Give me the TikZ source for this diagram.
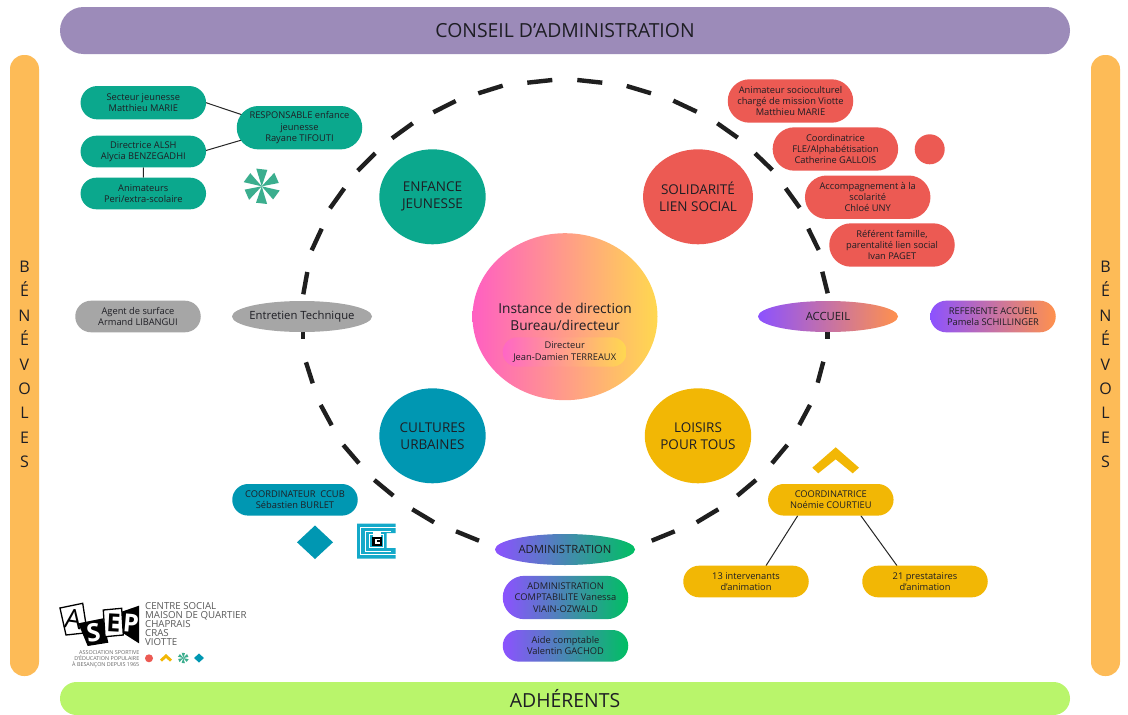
\documentclass[tikz,border=0pt]{standalone}
\usepackage{fontspec}
\setmainfont{Open Sans}
\usetikzlibrary{shapes.geometric,shapes.misc,backgrounds,calc}
\definecolor{teal1}{HTML}{0BA88D}
\definecolor{red1}{HTML}{EC5A53}
\definecolor{blue1}{HTML}{0097B2}
\definecolor{yel1}{HTML}{F2B705}
\definecolor{grey1}{HTML}{A6A6A6}
\definecolor{purp1}{HTML}{9C8BB9}
\definecolor{lime1}{HTML}{B9F56B}
\definecolor{oran1}{HTML}{FDBB57}
\definecolor{vio1}{HTML}{8C52FF}
\definecolor{org2}{HTML}{FF914D}
\definecolor{grn2}{HTML}{00BF63}
\definecolor{pnk}{HTML}{FF5FC2}
\definecolor{ylw}{HTML}{FFD84F}
\definecolor{aster}{HTML}{3BAE8E}
\definecolor{txt}{HTML}{1E1E24}
\definecolor{cyan1}{HTML}{14A9C9}
\tikzset{
  pill/.style={rounded rectangle,minimum width=125.5pt,inner sep=0pt,outer sep=0pt,
     align=center,font=\fontsize{9.3}{11.2}\selectfont,text=txt},
  pillA/.style={pill,minimum height=31.6pt},
  pillB/.style={pill,minimum height=43.4pt},
  blob/.style={ellipse,minimum width=106.4pt,minimum height=95pt,inner sep=0pt,outer sep=0pt,
     align=center,font=\fontsize{13.5}{17}\selectfont,text=txt},
  oval/.style={ellipse,minimum width=140pt,minimum height=31pt,inner xsep=-12pt,inner ysep=0pt,outer sep=0pt,
     align=center,font=\fontsize{11.3}{13}\selectfont,text=txt},
  band/.style={rounded rectangle,inner sep=0pt,outer sep=0pt,text=txt,font=\fontsize{19.4}{22}\selectfont},
  link/.style={draw=black!85,line width=1pt},
  ringdash/.style={draw=black!88,line width=4.4pt},
  sidetext/.style={align=center,font=\fontsize{16}{24.4}\selectfont,text=txt,inner sep=0pt},
  logotext/.style={align=left,anchor=north west,inner sep=0pt,text=black!65,font=\fontsize{9.7}{9}\selectfont},
}
\newcommand{\astr}[4]{% x y radius color
  \begin{scope}[shift={(#1,#2)}]
  \foreach \a in {0,60,...,300}{
    \fill[#4] (0,0) -- ($(\a+13:#3)$) -- ($(\a+49:#3*0.94)$) -- cycle;
  }
  \end{scope}}
\begin{document}
\begin{tikzpicture}[x=1pt,y=-1pt]
\begin{pgfonlayer}{background}
\fill[white] (0,0) rectangle (1128,715);
\end{pgfonlayer}
\path[use as bounding box] (0,0) rectangle (1128,715);

% bands
\node[band,fill=purp1,minimum width=1010pt,minimum height=47pt] (ca) at (565,30.5) {CONSEIL D’ADMINISTRATION};
\begin{scope}
\clip (0,0) rectangle (1128,715);
\node[band,fill=lime1,minimum width=1010pt,minimum height=33pt] (adh) at (565,698.5) {ADHÉRENTS};
\end{scope}
\fill[oran1,rounded corners=14pt] (10,55) rectangle (39,676);
\fill[oran1,rounded corners=14pt] (1091,55) rectangle (1120,676);
\node[sidetext] (benl) at (24.5,364.5) {B\\É\\N\\É\\V\\O\\L\\E\\S};
\node[sidetext] (benr) at (1105.5,364.5) {B\\É\\N\\É\\V\\O\\L\\E\\S};

% ring dashes
\foreach \xa/\ya/\xb/\yb in {
527.3/82.7/552.3/80, 478.3/93.3/502.7/85.7, 433.3/112.3/455.7/101, 392/138.3/412.7/123.3,
357.7/170.7/375.3/153.3, 330/208.3/344.3/188.3, 311.7/250.3/321.7/228.7, 303.3/294.3/307.3/272,
577.3/80/602.3/82.7, 626.7/86/651/93.3, 673.3/100.7/696.7/111.7, 717.3/123.3/737.7/137.7,
755/153.3/772.3/170, 785.7/188.3/799.7/207.7, 808.3/228.7/818.7/250, 822.3/271.7/827.7/293.3,
827.3/325/827.3/339, 823.3/361.7/817.7/382.7, 810/405/799.3/425, 787.3/445/772/463.3,
756/480/737.3/495.7, 718.3/509.3/696.7/522.3, 674.7/531.3/651.7/540.7,
302.7/325/302.7/339, 306/362.3/312.7/383.3, 320.7/405/331.7/425.3, 343.3/445/359/463.3,
374.3/480/393.3/495.7, 412.3/509.3/434/522.3, 456/531.3/479/540.7}
  \draw[ringdash] (\xa,\ya) -- (\xb,\yb);

% centre
\node[ellipse,minimum width=185pt,minimum height=167pt,inner sep=0pt,left color=pnk,right color=ylw] (dir) at (565,316.7) {};
\node[text=txt,align=center,font=\fontsize{13.7}{17}\selectfont] (dirt) at (565,316.5) {Instance de direction\\Bureau/directeur};
\node[pillA,minimum width=124pt,minimum height=29.4pt,left color=pnk!95!white,right color=ylw] (jd) at (564.7,352) {Directeur\\Jean-Damien TERREAUX};

% blobs
\node[blob,fill=teal1] (enf) at (432.5,196.8) {ENFANCE\\JEUNESSE};
\node[blob,fill=red1] (sol) at (698,196.8) {SOLIDARITÉ\\LIEN SOCIAL};
\node[blob,fill=blue1] (cul) at (432.5,435.8) {CULTURES\\URBAINES};
\node[blob,fill=yel1] (loi) at (698,435.8) {LOISIRS\\POUR TOUS};

% ovals
\node[oval,fill=grey1] (ent) at (302,316.5) {Entretien Technique};
\node[oval,left color=vio1,right color=org2] (acc) at (828,316.5) {ACCUEIL};
\node[oval,left color=vio1,right color=grn2] (adm) at (565,549.5) {ADMINISTRATION};

% teal pills
\node[pillA,fill=teal1,minimum height=33.3pt] (sec) at (143.3,102.7) {Secteur jeunesse\\Matthieu MARIE};
\node[pillB,fill=teal1] (res) at (299.5,127.7) {RESPONSABLE enfance\\jeunesse\\Rayane TIFOUTI};
\node[pillA,fill=teal1] (dal) at (143.3,151.5) {Directrice ALSH\\Alycia BENZEGADHI};
\node[pillA,fill=teal1] (ani) at (143.3,193.5) {Animateurs\\Peri/extra-scolaire};

% red pills
\node[pillB,fill=red1] (r1) at (790.5,101) {Animateur socioculturel\\chargé de mission Viotte\\Matthieu MARIE};
\node[pillB,fill=red1] (r2) at (835.4,149) {Coordinatrice\\FLE/Alphabétisation\\Catherine GALLOIS};
\node[pillB,fill=red1] (r3) at (867.7,197.2) {Accompagnement à la\\scolarité\\Chloé UNY};
\node[pillB,fill=red1] (r4) at (892,245) {Référent famille,\\parentalité lien social\\Ivan PAGET};
\fill[red1] (929.7,149.3) circle[radius=15];

% others
\node[pillA,fill=grey1] (agt) at (138,316.5) {Agent de surface\\Armand LIBANGUI};
\node[pillA,left color=vio1,right color=org2] (ref) at (993,316.5) {REFERENTE ACCUEIL\\Pamela SCHILLINGER};
\node[pillA,fill=blue1] (ccub) at (295,499.8) {COORDINATEUR\ \ CCUB\\Sébastien BURLET};
\node[pillA,fill=yel1] (coo) at (830.8,499.8) {COORDINATRICE\\Noémie COURTIEU};
\node[pillA,fill=yel1] (i13) at (746,581.5) {13 intervenants\\d’animation};
\node[pillA,fill=yel1] (p21) at (925,581.5) {21 prestataires\\d’animation};
\node[pillB,left color=vio1,right color=grn2] (ad1) at (565.5,597.5) {ADMINISTRATION\\COMPTABILITE Vanessa\\VIAIN-OZWALD};
\node[pillA,left color=vio1,right color=grn2] (ad2) at (565.5,645.8) {Aide comptable\\Valentin GACHOD};

% connectors (behind the pills)
\begin{pgfonlayer}{background}
\draw[link] (sec.east) -- ([xshift=8pt,yshift=12pt]res.west);
\draw[link] ([yshift=1pt]dal.east) -- ([xshift=6pt,yshift=-12pt]res.west);
\draw[link] (dal) -- (ani);
\draw[link] ([xshift=-33pt]coo.south) -- ([xshift=20pt]i13.north);
\draw[link] ([xshift=30pt]coo.south) -- ([xshift=-28pt]p21.north);
\end{pgfonlayer}

% asterisk, chevron, diamond
\astr{261.7}{186.3}{18.5}{aster}
\fill[yel1] (835.7,447.3) -- (859,467.7) -- (852.7,473.3) -- (835.7,459.3) -- (818.3,473.3) -- (812.3,467.7) -- cycle;
\fill[blue1] (315,525.5) -- (333,542.3) -- (315,559) -- (297,542.3) -- cycle;

% labyrinth
\fill[cyan1] (357,523.5) -- (395.7,523.5) -- (395.7,533) -- (386.7,533) -- (386.7,548) -- (395.7,548) -- (395.7,558.5) -- (357,558.5) -- cycle;
\draw[white,line width=1pt] (395.7,527.5) -- (360.7,527.5) -- (360.7,554.5) -- (395.7,554.5);
\draw[white,line width=1pt] (391,531) -- (365,531) -- (365,551) -- (391,551);
\draw[white,line width=1pt] (369.5,534.5) rectangle (383.5,547.5);
\fill[white] (372.7,531.7) rectangle (380.7,537);
\fill[black] (371.7,536.7) rectangle (381.7,545.7);
\fill[white] (374.5,538.7) rectangle (380,543.7);
\fill[black] (376.5,540.2) rectangle (381.7,542.3);

% logo
\draw[black,fill=white,line width=1.3pt] (60,608) -- (82.7,603.3) -- (87.3,632.7) -- (66,635) -- cycle;
\fill[black] (78.3,623.3) -- (103.3,618.3) -- (108.3,642.7) -- (87.7,646) -- cycle;
\draw[black,fill=white,line width=1.3pt] (103.3,610) -- (121.7,608.3) -- (123.3,635) -- (105,636.7) -- cycle;
\fill[black] (121.7,611.7) -- (139,605.7) -- (139,643.3) -- (123.3,633.3) -- cycle;
\node[rotate=-8,inner sep=0pt,text=black,font=\fontsize{27}{27}\selectfont] (la) at (73.5,619.5) {A};
\node[rotate=8,inner sep=0pt,text=white,font=\bfseries\fontsize{25}{25}\selectfont] (ls) at (93.5,632.5) {S};
\node[rotate=-3,inner sep=0pt,text=black,font=\bfseries\fontsize{25}{25}\selectfont] (le) at (113.5,622.5) {E};
\node[rotate=-5,inner sep=0pt,text=white,font=\bfseries\fontsize{25}{25}\selectfont] (lp) at (131,623) {P};
\node[logotext] (lt) at (145,602.5) {CENTRE SOCIAL\\MAISON DE QUARTIER\\CHAPRAIS\\CRAS\\VIOTTE};
\node[align=right,anchor=east,inner sep=0pt,text=black!60,font=\fontsize{5.4}{5.7}\selectfont] (ls2) at (139.5,659) {ASSOCIATION SPORTIVE\\D’ÉDUCATION POPULAIRE\\À BESANÇON DEPUIS 1965};
\fill[red1] (149,658.3) circle[radius=4];
\fill[yel1] (166,654) -- (172,659.5) -- (170,661.5) -- (166,658) -- (162,661.5) -- (160,659.5) -- cycle;
\astr{183.3}{658}{5.5}{aster}
\fill[blue1] (199,653.5) -- (204,658) -- (199,662.5) -- (194,658) -- cycle;
\end{tikzpicture}
\end{document}
